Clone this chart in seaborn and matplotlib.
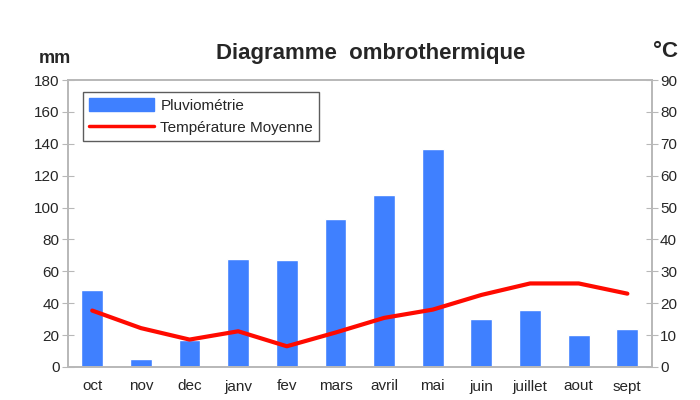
import matplotlib
matplotlib.use("Agg")
import matplotlib.pyplot as plt
import seaborn as sns
import numpy as np
import pandas as pd
from matplotlib.lines import Line2D
from matplotlib.patches import Patch

months = ["oct", "nov", "dec", "janv", "fev", "mars", "avril", "mai", "juin", "juillet", "aout", "sept"]
rain_mm = [48, 5, 17, 68, 67, 93, 108, 137, 30, 36, 20, 24]
temp_c = [17.7, 12.2, 8.6, 11.2, 6.5, 10.8, 15.4, 18, 22.6, 26.2, 26.2, 23]
left_ticks = [0, 20, 40, 60, 80, 100, 120, 140, 160, 180]
right_ticks = [0, 10, 20, 30, 40, 50, 60, 70, 80, 90]

sns.set_style("white")
plt.rcParams['font.family'] = ['Liberation Sans', 'DejaVu Sans']

df = pd.DataFrame({"mois": months, "pluie": rain_mm, "temp": temp_c, "idx": np.arange(len(months))})

BLUE = "#3f80ff"
RED = "#ff0a00"
GRID = "#b8b8b8"

fig = plt.figure(figsize=(7, 4), dpi=100)
ax = fig.add_axes([0.097, 0.0825, 0.834, 0.7175])
sns.barplot(data=df, x="mois", y="pluie", color=BLUE, saturation=1, width=0.45, ax=ax)
ax.set_ylim(0, 180)
ax.set_xlim(-0.5, len(months) - 0.5)
ax.set_yticks(left_ticks)
ax.set_xlabel("")
ax.set_ylabel("")

ax2 = ax.twinx()
sns.lineplot(data=df, x="idx", y="temp", color=RED, linewidth=3.0, ax=ax2)
ax2.set_ylim(0, 90)
ax2.set_yticks(right_ticks)
ax2.set_ylabel("")
ax2.set_xlim(-0.5, len(months) - 0.5)

for a in (ax, ax2):
    for s in a.spines.values():
        s.set_color(GRID)
        s.set_linewidth(1.2)
ax.tick_params(axis="y", direction="inout", length=8, color=GRID, labelsize=11, pad=2)
ax2.tick_params(axis="y", direction="inout", length=8, color=GRID, labelsize=11, pad=2)
ax.set_xticks(np.arange(-0.5, len(months), 1), minor=True)
ax.tick_params(axis="x", which="major", length=0, labelsize=11, pad=9)
ax.tick_params(axis="x", which="minor", direction="inout", length=10, color=GRID)

handles = [Patch(facecolor=BLUE, edgecolor=BLUE), Line2D([0], [0], color=RED, linewidth=2.5)]
leg = ax.legend(handles, ["Pluviométrie", "Température Moyenne"], loc="upper left",
                bbox_to_anchor=(0.012, 0.985), frameon=True, fancybox=False, fontsize=11,
                handlelength=4.3, handleheight=0.9, borderpad=0.4, labelspacing=0.5, handletextpad=0.4)
leg.get_frame().set_edgecolor("#333333")
leg.get_frame().set_linewidth(1.0)

fig.text(0.53, 0.867, "Diagramme  ombrothermique", ha="center", va="center", fontsize=16, fontweight="bold")
fig.text(0.078, 0.853, "mm", ha="center", va="center", fontsize=13, fontweight="bold")
fig.text(0.951, 0.872, "°C", ha="center", va="center", fontsize=16, fontweight="bold")

fig.savefig("out.png", dpi=100)
